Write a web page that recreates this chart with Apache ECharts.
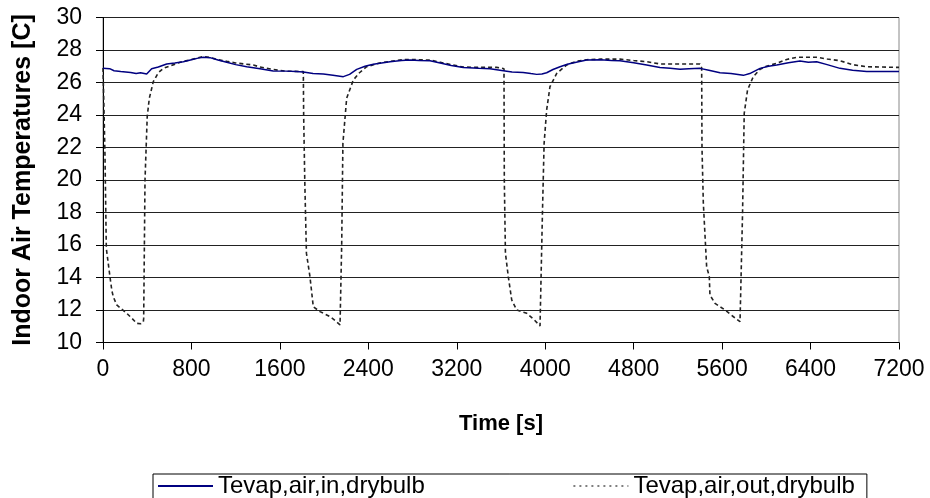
<!DOCTYPE html>
<html><head><meta charset="utf-8">
<script src="https://cdn.jsdelivr.net/npm/echarts@6/dist/echarts.min.js"></script>
<style>html,body{margin:0;padding:0;background:#fff}#c{width:930px;height:498px}</style>
</head><body><div id="c"></div>
<script>
const xTicks = [0, 800, 1600, 2400, 3200, 4000, 4800, 5600, 6400, 7200];
const yTicks = [10, 12, 14, 16, 18, 20, 22, 24, 26, 28, 30];
const seriesNames = ['Tevap,air,in,drybulb', 'Tevap,air,out,drybulb'];

const timeIn = [0,60,100,160,250,300,340,395,440,500,576,650,727,800,860,907,968,1040,1119,1200,1300,1420,1540,1650,1750,1812,1900,1993,2080,2174,2230,2295,2370,2445,2505,2596,2700,2777,2860,2958,3050,3150,3259,3400,3500,3621,3700,3800,3870,3923,3970,4013,4070,4134,4200,4280,4375,4500,4600,4676,4800,4918,5038,5130,5219,5300,5400,5480,5581,5680,5792,5850,5943,6020,6094,6200,6304,6380,6455,6550,6666,6780,6908,7050,7200];
const tempIn = [26.87,26.85,26.72,26.67,26.62,26.55,26.60,26.52,26.85,26.95,27.14,27.20,27.28,27.40,27.50,27.55,27.53,27.38,27.24,27.10,26.97,26.85,26.71,26.70,26.67,26.65,26.55,26.52,26.45,26.36,26.50,26.81,27.00,27.12,27.18,27.28,27.36,27.38,27.36,27.34,27.20,27.05,26.93,26.87,26.85,26.73,26.65,26.62,26.55,26.50,26.52,26.60,26.80,26.97,27.12,27.25,27.38,27.40,27.36,27.34,27.22,27.08,26.93,26.87,26.81,26.85,26.87,26.75,26.60,26.55,26.44,26.55,26.87,27.00,27.08,27.22,27.32,27.25,27.28,27.10,26.87,26.75,26.67,26.67,26.67];

const timeOut = [0,10,18,30,45,63,80,93,124,170,214,260,305,340,365,368,380,400,419,455,500,546,600,700,800,907,968,1040,1119,1200,1360,1420,1540,1650,1812,1815,1825,1840,1872,1902,1963,2053,2100,2144,2150,2159,2170,2204,2264,2320,2385,2500,2596,2700,2777,2860,2958,3050,3150,3259,3400,3561,3627,3630,3640,3666,3697,3742,3833,3900,3953,3968,3975,3990,4013,4043,4104,4194,4280,4375,4500,4676,4800,4918,5038,5219,5400,5415,5418,5430,5460,5484,5490,5536,5626,5700,5762,5771,5785,5800,5830,5882,5943,6000,6094,6184,6274,6455,6550,6666,6780,6908,7050,7200];
const tempOut = [26.9,24.0,21.5,15.8,15.0,14.05,13.2,12.82,12.31,12.05,11.80,11.50,11.18,11.15,11.28,11.5,20.0,23.9,25.03,26.05,26.6,26.87,27.0,27.25,27.42,27.6,27.55,27.4,27.3,27.2,27.08,26.95,26.8,26.7,26.67,24.0,20.0,15.5,14.05,12.2,11.9,11.6,11.35,11.08,11.2,16.0,22.26,25.03,26.15,26.6,26.97,27.2,27.3,27.4,27.42,27.4,27.38,27.25,27.1,26.95,26.93,26.93,26.85,20.0,15.5,14.05,12.62,12.0,11.8,11.4,11.02,11.1,18.0,22.26,24.31,25.74,26.56,27.08,27.3,27.4,27.44,27.44,27.35,27.28,27.14,27.14,27.14,26.9,22.0,18.6,14.67,14.05,12.92,12.41,12.0,11.6,11.28,11.4,18.0,24.1,25.54,26.36,26.81,27.0,27.18,27.42,27.55,27.55,27.45,27.34,27.1,26.97,26.95,26.93];

const pairs = (xs, ys) => xs.map((x, i) => [x, ys[i]]);
const FONT = 'Liberation Sans, Arial, sans-serif';

const chart = echarts.init(document.getElementById('c'), null, {renderer: 'canvas'});
chart.setOption({
  animation: false,
  backgroundColor: '#fff',
  grid: {left: 103, right: 31, top: 17.5, bottom: 155.5, show: true, borderColor: '#888', borderWidth: 1},
  xAxis: {
    type: 'value', min: 0, max: 7200, interval: 800,
    name: 'Time [s]', nameLocation: 'middle', nameGap: 70,
    nameTextStyle: {fontFamily: FONT, fontWeight: 'bold', fontSize: 22, color: '#000'},
    axisLine: {show: true, lineStyle: {color: '#000', width: 1}},
    axisTick: {show: true, inside: false, length: 7, lineStyle: {color: '#000'}},
    axisLabel: {fontFamily: FONT, fontSize: 23, color: '#000', margin: 16,
      formatter: v => xTicks.includes(v) ? String(v) : ''},
    splitLine: {show: false}
  },
  yAxis: {
    type: 'value', min: 10, max: 30, interval: 2,
    name: 'Indoor Air Temperatures [C]', nameLocation: 'middle', nameGap: 67, nameRotate: 90,
    nameTextStyle: {fontFamily: FONT, fontWeight: 'bold', fontSize: 25, color: '#000'},
    axisLine: {show: true, lineStyle: {color: '#000', width: 1}},
    axisTick: {show: true, inside: false, length: 7, lineStyle: {color: '#000'}},
    axisLabel: {fontFamily: FONT, fontSize: 23, color: '#000', margin: 21,
      formatter: v => yTicks.includes(v) ? String(v) : ''},
    splitLine: {show: true, lineStyle: {color: '#222', width: 1}}
  },
  legend: {
    left: 153, top: 474,
    orient: 'horizontal',
    borderColor: '#000', borderWidth: 1,
    padding: [0, 12, 20, 4],
    itemWidth: 55, itemHeight: 12, itemGap: 148, itemTextGap: 6,
    textStyle: {fontFamily: FONT, fontSize: 24, color: '#000'},
    data: [
      {name: seriesNames[0], itemStyle: {opacity: 0}},
      {name: seriesNames[1], itemStyle: {opacity: 0}, lineStyle: {type: [2, 4], color: '#000', width: 1.2}}
    ]
  },
  series: [
    {name: seriesNames[0], type: 'line', data: pairs(timeIn, tempIn), symbol: 'none',
     lineStyle: {color: '#000080', width: 1.5}, itemStyle: {color: '#000080'}, z: 3},
    {name: seriesNames[1], type: 'line', data: pairs(timeOut, tempOut), symbol: 'none',
     lineStyle: {color: '#222', width: 1.6, type: [4, 3]}, itemStyle: {color: '#222'}, z: 2}
  ]
});
</script></body></html>
